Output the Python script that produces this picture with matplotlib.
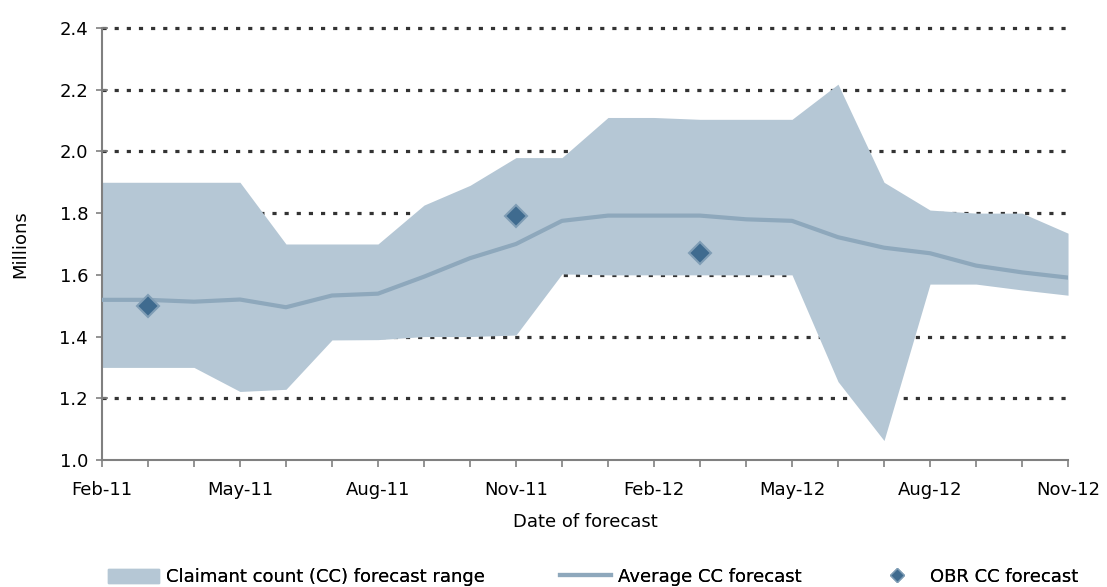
import numpy as np
from matplotlib import pyplot as plt
from matplotlib.patches import Patch
from matplotlib.lines import Line2D

# Monthly forecast dates, Feb-11 to Nov-12
months = ["Feb-11", "Mar-11", "Apr-11", "May-11", "Jun-11", "Jul-11", "Aug-11",
          "Sep-11", "Oct-11", "Nov-11", "Dec-11", "Jan-12", "Feb-12", "Mar-12",
          "Apr-12", "May-12", "Jun-12", "Jul-12", "Aug-12", "Sep-12", "Oct-12",
          "Nov-12"]

range_high = [1.90, 1.90, 1.90, 1.90, 1.70, 1.70, 1.70, 1.826, 1.89, 1.98, 1.98,
              2.11, 2.11, 2.104, 2.104, 2.104, 2.218, 1.90, 1.81, 1.80, 1.80, 1.735]
range_low = [1.30, 1.30, 1.30, 1.222, 1.229, 1.389, 1.39, 1.40, 1.40, 1.405, 1.603,
             1.60, 1.60, 1.60, 1.60, 1.60, 1.254, 1.063, 1.57, 1.57, 1.551, 1.534]
average_cc = [1.519, 1.519, 1.513, 1.52, 1.495, 1.533, 1.539, 1.594, 1.654, 1.70,
              1.775, 1.792, 1.792, 1.792, 1.78, 1.775, 1.722, 1.688, 1.67, 1.63,
              1.608, 1.591]
obr_months = ["Mar-11", "Nov-11", "Mar-12"]
obr_cc = [1.50, 1.792, 1.67]

fill_col = "#b5c7d5"
line_col = "#8ea8bc"
marker_col = "#3f6b8f"
marker_edge = "#7f9db5"

plt.rcParams["font.family"] = "DejaVu Sans"
plt.rcParams["font.size"] = 13

x = np.arange(len(months))
x_obr = [months.index(m) for m in obr_months]

fig = plt.figure(figsize=(11.07, 5.87), dpi=100)
ax = fig.add_axes([0.0921, 0.2164, 0.8727, 0.7359])

ax.fill_between(x, range_low, range_high, color=fill_col, linewidth=0, zorder=2)
ax.plot(x, average_cc, color=line_col, linewidth=3, zorder=3)
ax.plot(x_obr, obr_cc, "D", color=marker_col, markeredgecolor=marker_edge,
        markeredgewidth=1.5, markersize=11, zorder=4)

# Dotted grid lines (square dots)
for yv in np.arange(1.2, 2.41, 0.2):
    ax.axhline(yv, color="#333333", linewidth=2.3, linestyle=(0, (1.3, 2.5)),
               zorder=1, clip_on=False)

ax.set_xlim(0, len(months) - 1)
ax.set_ylim(1.0, 2.4)
ax.set_xticks(x)
ax.set_xticklabels([m if i % 3 == 0 else "" for i, m in enumerate(months)])
ax.set_yticks(np.arange(1.0, 2.41, 0.2))
ax.set_yticklabels([f"{v:.1f}" for v in np.arange(1.0, 2.41, 0.2)])
ax.tick_params(axis="x", direction="out", length=5, width=1.2, color="#808080", pad=10)
ax.tick_params(axis="y", direction="inout", length=8, width=1.2, color="#808080", pad=6)

for s in ["top", "right"]:
    ax.spines[s].set_visible(False)
for s in ["left", "bottom"]:
    ax.spines[s].set_color("#808080")
    ax.spines[s].set_linewidth(1.5)

ax.set_xlabel("Date of forecast")
ax.xaxis.set_label_coords(0.5, -0.122)
ax.set_ylabel("Millions")
ax.yaxis.set_label_coords(-0.075, 0.5)

handles = [
    Patch(color=fill_col, label="Claimant count (CC) forecast range"),
    Line2D([], [], color=line_col, linewidth=3, label="Average CC forecast"),
    Line2D([], [], marker="D", linestyle="none", color=marker_col,
           markeredgecolor=marker_edge, markersize=7, label="OBR CC forecast"),
]
anchors = [108, 560, 872]
for h, xa in zip(handles, anchors):
    leg = fig.legend(handles=[h], loc="center left", bbox_to_anchor=(xa / 1107, 0.017),
                     frameon=False, borderpad=0, borderaxespad=0, handlelength=2.8,
                     handleheight=0.8, handletextpad=0.4)
    fig.add_artist(leg)

fig.savefig("out.png", dpi=100)
